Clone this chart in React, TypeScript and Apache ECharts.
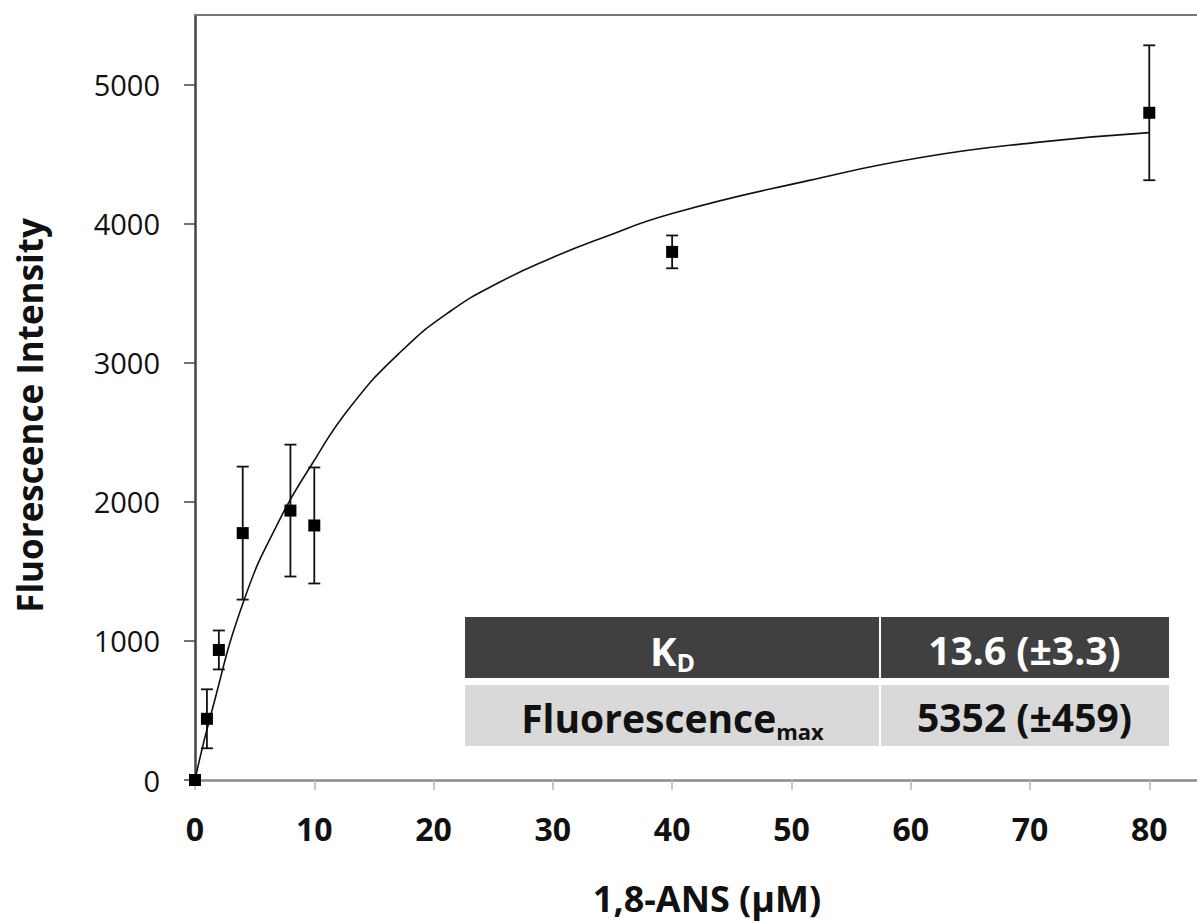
import React, { useEffect, useRef } from 'react';
import * as echarts from 'echarts';

// Measured points (1,8-ANS concentration in µM)
const concentrations = [0, 1, 2, 4, 8, 10, 40, 80];
const intensities = [0, 440, 935, 1775, 1937, 1830, 3797, 4797];
const errors = [0, 212, 140, 478, 474, 417, 118, 485];

// Fitted saturation curve
const fitX = [0, 1.3, 4.1, 7.1, 9.8, 13.0, 17.2, 21.4, 25.6, 29.8, 34.0, 40.0, 51.5, 61.1, 70.8, 80];
const fitY = [0, 460, 1290, 1872, 2270, 2680, 3075, 3370, 3582, 3750, 3893, 4073, 4311, 4479, 4586, 4654];

const xTicks = [0, 10, 20, 30, 40, 50, 60, 70, 80];
const yTicks = [0, 1000, 2000, 3000, 4000, 5000];

const kdValue = '13.6 (±3.3)';
const fmaxValue = '5352 (±459)';

const FONT = 'Open Sans';

export default function App() {
  const ref = useRef<HTMLDivElement>(null);

  useEffect(() => {
    document.body.style.margin = '0';
    const chart = echarts.init(ref.current!, null, { renderer: 'svg' });

    const tLeft = 465, tMid = 880, tRight = 1169;
    const r1Top = 617, r1H = 61, r2Top = 685, r2H = 61;

    chart.setOption({
      animation: false,
      backgroundColor: '#ffffff',
      textStyle: { fontFamily: FONT },
      grid: { left: 195, right: 0, top: 15, bottom: 140 },
      xAxis: [
        {
          type: 'value',
          min: 0,
          max: 84,
          interval: 10,
          position: 'bottom',
          axisLine: { show: true, onZero: false, lineStyle: { color: '#8a8a8a', width: 2.5 } },
          axisTick: { show: true, customValues: xTicks, length: 10, lineStyle: { color: '#b5b5b5', width: 1.5 } },
          axisLabel: {
            customValues: xTicks,
            formatter: (v: number) => String(v),
            fontFamily: FONT,
            fontWeight: 'bold',
            fontSize: 32,
            color: '#111',
            margin: 32,
          },
          splitLine: { show: false },
          name: '1,8-ANS (μM)',
          nameLocation: 'middle',
          nameGap: 100,
          nameTextStyle: {
            fontFamily: FONT,
            fontWeight: 'bold',
            fontSize: 36,
            color: '#111',
            padding: [0, 0, 0, 22],
          },
        },
        {
          type: 'value',
          min: 0,
          max: 84,
          position: 'top',
          axisLine: { show: true, onZero: false, lineStyle: { color: '#777', width: 2 } },
          axisTick: { show: false },
          axisLabel: { show: false },
          splitLine: { show: false },
        },
      ],
      yAxis: {
        type: 'value',
        min: 0,
        max: 5500,
        interval: 1000,
        axisLine: { show: true, onZero: false, lineStyle: { color: '#444', width: 2.5 } },
        axisTick: { show: true, customValues: yTicks, length: 11, lineStyle: { color: '#444', width: 1.5 } },
        axisLabel: {
          customValues: yTicks,
          formatter: (v: number) => String(v),
          fontFamily: FONT,
          fontSize: 29,
          color: '#111',
          margin: 35,
        },
        splitLine: { show: false },
        name: 'Fluorescence Intensity',
        nameLocation: 'middle',
        nameGap: 148,
        nameTextStyle: {
          fontFamily: FONT,
          fontWeight: 'bold',
          fontSize: 35,
          color: '#111',
          padding: [0, 36, 0, 0],
        },
      },
      series: [
        {
          type: 'line',
          data: fitX.map((x, i) => [x, fitY[i]]),
          smooth: 0.5,
          showSymbol: false,
          lineStyle: { color: '#111', width: 1.6 },
          z: 2,
        },
        {
          type: 'custom',
          data: concentrations.map((x, i) => [x, intensities[i] - errors[i], intensities[i] + errors[i]]),
          encode: { x: 0, y: [1, 2] },
          renderItem: (params: any, api: any) => {
            const x = api.value(0);
            const lo = api.value(1);
            const hi = api.value(2);
            if (hi - lo <= 0) return { type: 'group', children: [] };
            const pLo = api.coord([x, lo]);
            const pHi = api.coord([x, hi]);
            const hw = 6;
            const style = { stroke: '#111', lineWidth: 1.8 };
            return {
              type: 'group',
              children: [
                { type: 'line', shape: { x1: pLo[0], y1: pLo[1], x2: pHi[0], y2: pHi[1] }, style },
                { type: 'line', shape: { x1: pHi[0] - hw, y1: pHi[1], x2: pHi[0] + hw, y2: pHi[1] }, style },
                { type: 'line', shape: { x1: pLo[0] - hw, y1: pLo[1], x2: pLo[0] + hw, y2: pLo[1] }, style },
              ],
            };
          },
          z: 3,
        },
        {
          type: 'scatter',
          data: concentrations.map((x, i) => [x, intensities[i]]),
          symbol: 'rect',
          symbolSize: 12,
          itemStyle: { color: '#000', opacity: 1 },
          z: 5,
        },
      ],
      graphic: [
        { type: 'rect', shape: { x: tLeft, y: r1Top, width: tMid - tLeft - 1, height: r1H }, style: { fill: '#404040' }, z: 10 },
        { type: 'rect', shape: { x: tMid + 1, y: r1Top, width: tRight - tMid - 1, height: r1H }, style: { fill: '#404040' }, z: 10 },
        { type: 'rect', shape: { x: tLeft, y: r2Top, width: tMid - tLeft - 1, height: r2H }, style: { fill: '#d9d9d9' }, z: 10 },
        { type: 'rect', shape: { x: tMid + 1, y: r2Top, width: tRight - tMid - 1, height: r2H }, style: { fill: '#d9d9d9' }, z: 10 },
        {
          type: 'text',
          x: (tLeft + tMid) / 2,
          y: r1Top + r1H / 2 + 3,
          z: 11,
          style: {
            text: '{k|K}{d|D}',
            align: 'center',
            verticalAlign: 'middle',
            rich: {
              k: { fontFamily: FONT, fontWeight: 'bold', fontSize: 40, lineHeight: 48, fill: '#ffffff' },
              d: { fontFamily: FONT, fontWeight: 'bold', fontSize: 25, lineHeight: 28, verticalAlign: 'bottom', fill: '#ffffff' },
            },
          },
        },
        {
          type: 'text',
          x: (tMid + tRight) / 2,
          y: r1Top + r1H / 2 + 2,
          z: 11,
          style: {
            text: kdValue,
            align: 'center',
            verticalAlign: 'middle',
            fontFamily: FONT,
            fontWeight: 'bold',
            fontSize: 39,
            fill: '#ffffff',
          },
        },
        {
          type: 'text',
          x: (tLeft + tMid) / 2,
          y: r2Top + r2H / 2 + 2,
          z: 11,
          style: {
            text: '{f|Fluorescence}{m|max}',
            align: 'center',
            verticalAlign: 'middle',
            rich: {
              f: { fontFamily: FONT, fontWeight: 'bold', fontSize: 39, lineHeight: 48, fill: '#111' },
              m: { fontFamily: FONT, fontWeight: 'bold', fontSize: 22, lineHeight: 26, verticalAlign: 'bottom', fill: '#111' },
            },
          },
        },
        {
          type: 'text',
          x: (tMid + tRight) / 2,
          y: r2Top + r2H / 2 + 1,
          z: 11,
          style: {
            text: fmaxValue,
            align: 'center',
            verticalAlign: 'middle',
            fontFamily: FONT,
            fontWeight: 'bold',
            fontSize: 39,
            fill: '#111',
          },
        },
      ],
    });

    return () => chart.dispose();
  }, []);

  return <div ref={ref} style={{ width: 1197, height: 921 }} />;
}
